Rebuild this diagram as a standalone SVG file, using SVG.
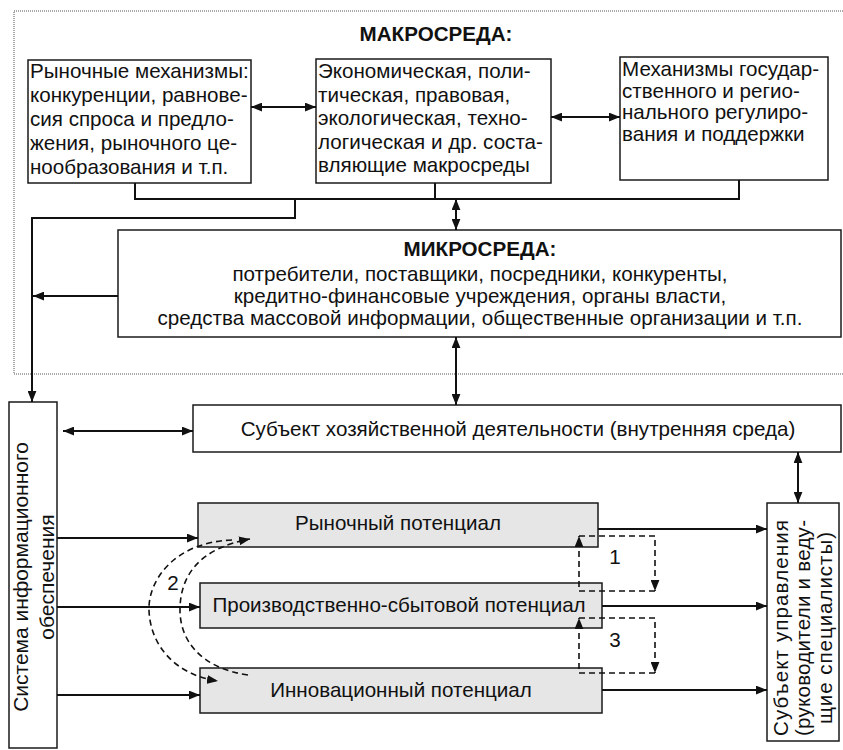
<svg xmlns="http://www.w3.org/2000/svg" width="843" height="750" viewBox="0 0 843 750">
  <style>
    text { font-family: "Liberation Sans", Arial, sans-serif; font-size: 20.6px; fill: #111; }
    .b { font-weight: bold; }
    .v { font-size: 21px; }
    .box { fill: #fff; stroke: #1a1a1a; stroke-width: 1.5; }
    .gbox { fill: #e6e6e6; stroke: #1a1a1a; stroke-width: 1.5; }
    .frame { fill: none; stroke: #555; stroke-width: 1; stroke-dasharray: 1 1; }
    .ln { fill: none; stroke: #111; stroke-width: 2; }
    .dash { fill: none; stroke: #111; stroke-width: 1.6; stroke-dasharray: 6 4; }
  </style>
  <defs>
    <marker id="ah" viewBox="0 0 10 8" refX="10" refY="4" markerWidth="11" markerHeight="9" markerUnits="userSpaceOnUse" orient="auto-start-reverse">
      <path d="M0,0 L10,4 L0,8 z" fill="#111"/>
    </marker>
  </defs>

  <rect width="843" height="750" fill="#fff"/>

  <!-- macro-environment frame (dotted) -->
  <rect class="frame" x="14" y="11" width="860" height="363"/>
  <text class="b" x="436" y="41" text-anchor="middle">МАКРОСРЕДА:</text>

  <g id="market-mechanisms">
    <rect class="box" x="28" y="60" width="223" height="123"/>
    <text x="30" y="78">Рыночные механизмы:</text>
    <text x="30" y="102">конкуренции, равнове-</text>
    <text x="30" y="126">сия спроса и предло-</text>
    <text x="30" y="150">жения, рыночного це-</text>
    <text x="30" y="174">нообразования и т.п.</text>
  </g>

  <g id="macro-components">
    <rect class="box" x="316" y="59" width="235" height="124"/>
    <text x="318" y="78">Экономическая, поли-</text>
    <text x="318" y="102">тическая, правовая,</text>
    <text x="318" y="125">экологическая, техно-</text>
    <text x="318" y="149">логическая и др. соста-</text>
    <text x="318" y="172">вляющие макросреды</text>
  </g>

  <g id="state-regulation">
    <rect class="box" x="620" y="57" width="208" height="123"/>
    <text x="622" y="76">Механизмы государ-</text>
    <text x="622" y="98">ственного и регио-</text>
    <text x="622" y="119">нального регулиро-</text>
    <text x="622" y="141">вания и поддержки</text>
  </g>

  <g id="micro-environment">
    <rect class="box" x="118" y="230" width="723" height="107"/>
    <text class="b" x="480" y="256" text-anchor="middle">МИКРОСРЕДА:</text>
    <text x="480" y="281" text-anchor="middle">потребители, поставщики, посредники, конкуренты,</text>
    <text x="480" y="303" text-anchor="middle">кредитно-финансовые учреждения, органы власти,</text>
    <text x="480" y="325" text-anchor="middle">средства массовой информации, общественные организации и т.п.</text>
  </g>

  <g id="business-entity">
    <rect class="box" x="193" y="405" width="648" height="47"/>
    <text x="518" y="436" text-anchor="middle">Субъект хозяйственной деятельности (внутренняя среда)</text>
  </g>

  <g id="information-system">
    <rect class="box" x="9" y="402" width="48" height="346"/>
    <text class="v" transform="translate(28,577) rotate(-90)" text-anchor="middle">Система информационного</text>
    <text class="v" transform="translate(54,577) rotate(-90)" text-anchor="middle">обеспечения</text>
  </g>

  <g id="management">
    <rect class="box" x="767" y="503" width="72" height="238"/>
    <text transform="translate(788,628) rotate(-90)" text-anchor="middle" textLength="216" lengthAdjust="spacing">Субъект управления</text>
    <text transform="translate(810,628) rotate(-90)" text-anchor="middle" textLength="216" lengthAdjust="spacing">(руководители и веду-</text>
    <text transform="translate(832,628) rotate(-90)" text-anchor="middle" textLength="192" lengthAdjust="spacing">щие специалисты)</text>
  </g>

  <g id="market-potential">
    <rect class="gbox" x="198" y="503" width="400" height="44"/>
    <text x="398" y="530" text-anchor="middle">Рыночный потенциал</text>
  </g>

  <g id="production-potential">
    <rect class="gbox" x="200" y="583" width="402" height="45"/>
    <text x="399" y="612" text-anchor="middle">Производственно-сбытовой потенциал</text>
  </g>

  <g id="innovation-potential">
    <rect class="gbox" x="200" y="668" width="402" height="45"/>
    <text x="401" y="697" text-anchor="middle">Инновационный потенциал</text>
  </g>

  <g id="connectors">
    <!-- macro blocks joined below -->
    <path class="ln" d="M135,183 V199 H739 V180 M435,183 V199"/>
    <path class="ln" d="M295,199 V218 H32 V402" marker-end="url(#ah)"/>
    <path class="ln" d="M456,199 V230" marker-start="url(#ah)" marker-end="url(#ah)"/>
    <path class="ln" d="M251,107 H316" marker-start="url(#ah)" marker-end="url(#ah)"/>
    <path class="ln" d="M551,117 H620" marker-start="url(#ah)" marker-end="url(#ah)"/>
    <path class="ln" d="M118,296 H33" marker-end="url(#ah)"/>
    <path class="ln" d="M456,337 V405" marker-start="url(#ah)" marker-end="url(#ah)"/>
    <path class="ln" d="M63,431 H193" marker-start="url(#ah)" marker-end="url(#ah)"/>
    <path class="ln" d="M798,452 V503" marker-start="url(#ah)" marker-end="url(#ah)"/>
    <!-- information flows into potentials -->
    <path class="ln" d="M57,538 H198" marker-end="url(#ah)"/>
    <path class="ln" d="M57,607 H200" marker-end="url(#ah)"/>
    <path class="ln" d="M57,695 H200" marker-end="url(#ah)"/>
    <!-- potentials to management -->
    <path class="ln" d="M598,529 H767" marker-end="url(#ah)"/>
    <path class="ln" d="M602,606 H767" marker-end="url(#ah)"/>
    <path class="ln" d="M602,690 H767" marker-end="url(#ah)"/>
    <!-- feedback loops 1 and 3 -->
    <path class="dash" d="M579,536 H655 V591" marker-end="url(#ah)"/>
    <path class="dash" d="M655,591 H579 V536" marker-end="url(#ah)"/>
    <path class="dash" d="M579,618 H655 V673" marker-end="url(#ah)"/>
    <path class="dash" d="M655,673 H579 V618" marker-end="url(#ah)"/>
    <!-- loop 2 arcs -->
    <path class="dash" d="M232,540 C175,542 148,580 149,610 C150,645 175,675 218,681" marker-end="url(#ah)"/>
    <path class="dash" d="M248,675 C200,668 180,640 180,610 C180,575 200,548 250,539" marker-end="url(#ah)"/>
  </g>

  <text x="615" y="564" text-anchor="middle">1</text>
  <text x="173" y="590" text-anchor="middle">2</text>
  <text x="615" y="647" text-anchor="middle">3</text>
</svg>
